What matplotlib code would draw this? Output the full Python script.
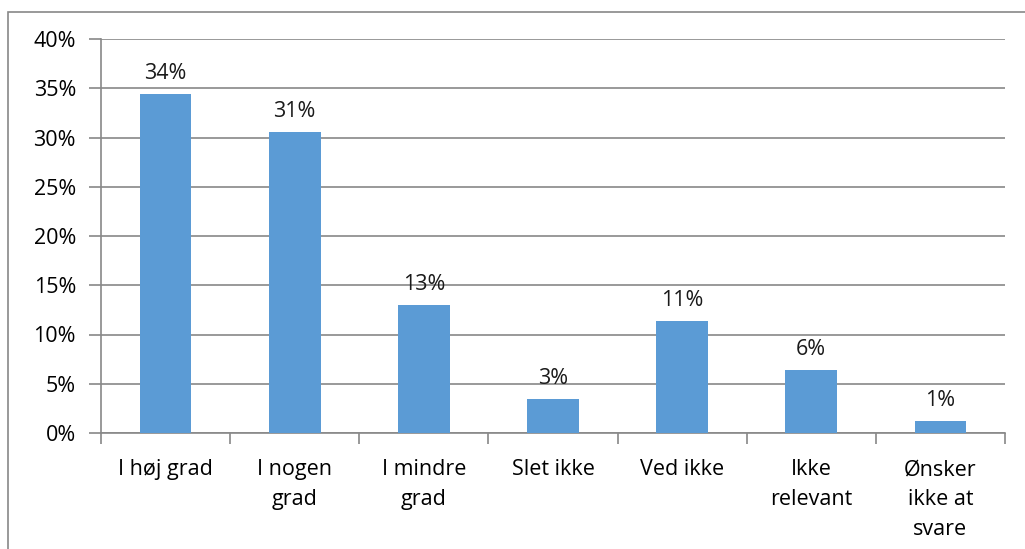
import matplotlib.pyplot as plt
from matplotlib.patches import Rectangle
from matplotlib.ticker import FixedLocator

categories = ["I høj grad", "I nogen\ngrad", "I mindre\ngrad", "Slet ikke",
              "Ved ikke", "Ikke\nrelevant", "Ønsker\nikke at\nsvare"]
values = [34.4, 30.6, 13.0, 3.45, 11.4, 6.4, 1.2]
yticks = [0, 5, 10, 15, 20, 25, 30, 35, 40]

bar_color = "#5B9BD5"
grid_color = "#888888"

plt.rcParams['font.family'] = ['Open Sans', 'DejaVu Sans']

fig = plt.figure(figsize=(10.25, 5.49), dpi=100)
ax = fig.add_axes([101 / 1025, 1 - 433 / 549, (1005 - 101) / 1025, (433 - 39) / 549])

# outer chart frame (only left and top edges visible)
fig.patches.append(Rectangle((8 / 1025, -0.1), 1.2, 1 - 12 / 549 + 0.1,
                             transform=fig.transFigure, fill=False,
                             edgecolor=grid_color, linewidth=1.2))

x = list(range(len(categories)))
ax.bar(x, values, width=0.4, color=bar_color, zorder=3)

for xi, v in zip(x, values):
    ax.annotate(f"{v:.0f}%", (xi, v), xytext=(0, 7), textcoords="offset points",
                ha="center", va="bottom", fontsize=15.5, color="#1a1a1a")

ax.set_xlim(-0.5, len(categories) - 0.5)
ax.set_ylim(0, 40)
ax.set_yticks(yticks)
ax.set_yticklabels([f"{t}%" for t in yticks], fontsize=15.5)
ax.yaxis.grid(True, color=grid_color, linewidth=1.2, zorder=0)

ax.set_xticks(x)
ax.set_xticklabels(categories, fontsize=15.5, linespacing=1.55)
ax.xaxis.set_minor_locator(FixedLocator([i - 0.5 for i in range(len(categories) + 1)]))
ax.tick_params(axis="x", which="major", length=0, pad=19)
ax.tick_params(axis="x", which="minor", length=8, color=grid_color, width=1.2)
ax.tick_params(axis="y", length=9, color=grid_color, width=1.2, pad=9)

for side in ["top", "right"]:
    ax.spines[side].set_visible(False)
for side in ["left", "bottom"]:
    ax.spines[side].set_color(grid_color)
    ax.spines[side].set_linewidth(1.2)

fig.savefig("out.png", dpi=100)
